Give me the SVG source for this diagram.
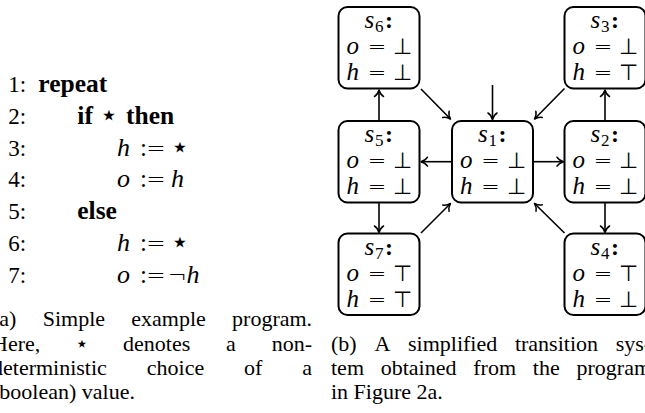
<svg xmlns="http://www.w3.org/2000/svg" width="645" height="413" viewBox="0 0 645 413">
<defs>
<style>
.bg{fill:#fff}
.box{fill:#fff;stroke:#000;stroke-width:2}
.e{fill:none;stroke:#000;stroke-width:1.6}
.ah{fill:none;stroke:#000;stroke-width:1.5;stroke-linecap:round;stroke-linejoin:round}
.mi{font-family:"Liberation Serif",serif;font-style:italic;font-size:25px}
.ms{font-family:"DejaVu Sans",sans-serif;font-size:22px;font-weight:200;font-style:normal}
.sub{font-family:"Liberation Serif",serif;font-size:17px;font-style:normal}
.col{font-family:"Liberation Serif",serif;font-size:24px;font-weight:bold;font-style:normal}
.num{font-family:"Liberation Serif",serif;font-size:23px}
.kw{font-weight:bold;font-size:25.5px;font-style:normal}
.ci{font-style:italic;font-size:26px}
.cs{font-family:"DejaVu Sans",sans-serif;font-size:23px;font-weight:200;font-style:normal}
.cc{font-size:25px;font-style:normal}
.cap{font-family:"Liberation Serif",serif;font-size:22px}
.star{font-family:"DejaVu Sans",sans-serif;font-size:30px;font-weight:normal;font-style:normal}
.star2{font-family:"DejaVu Sans",sans-serif;font-size:22px}
</style>
<marker id="arr" viewBox="-8 -6 10 12" markerWidth="10" markerHeight="12" refX="0" refY="0" orient="auto" markerUnits="userSpaceOnUse">
<path class="ah" d="M-6.5,-4.5 C-5,-2 -2,-0.6 0,0 C-2,0.6 -5,2 -6.5,4.5"/>
</marker>
</defs>
<rect class="bg" x="0" y="0" width="645" height="413"/>

<g id="code" font-family="Liberation Serif, serif">
<text y="92"><tspan class="num" x="8.3">1:</tspan><tspan class="kw" x="38.3">repeat</tspan></text>
<text y="123.8"><tspan class="num" x="8.3">2:</tspan><tspan class="kw" x="77.3">if</tspan><tspan class="star" x="109" y="125" text-anchor="middle">⋆</tspan><tspan class="kw" x="126" y="123.8">then</tspan></text>
<text y="155.6"><tspan class="num" x="8.3">3:</tspan><tspan class="ci" x="117">h</tspan><tspan class="cc" x="140">:</tspan><tspan class="cs" x="156" text-anchor="middle">=</tspan><tspan class="star" x="180" y="156.8" text-anchor="middle">⋆</tspan></text>
<text y="187.4"><tspan class="num" x="8.3">4:</tspan><tspan class="ci" x="117">o</tspan><tspan class="cc" x="140">:</tspan><tspan class="cs" x="156" text-anchor="middle">=</tspan><tspan class="ci" x="171">h</tspan></text>
<text y="219.2"><tspan class="num" x="8.3">5:</tspan><tspan class="kw" x="77.3">else</tspan></text>
<text y="251"><tspan class="num" x="8.3">6:</tspan><tspan class="ci" x="117">h</tspan><tspan class="cc" x="140">:</tspan><tspan class="cs" x="156" text-anchor="middle">=</tspan><tspan class="star" x="180" y="252.2" text-anchor="middle">⋆</tspan></text>
<text y="282.8"><tspan class="num" x="8.3">7:</tspan><tspan class="ci" x="117">o</tspan><tspan class="cc" x="140">:</tspan><tspan class="cs" x="156" text-anchor="middle">=</tspan><tspan class="cs" x="177.5" text-anchor="middle">¬</tspan><tspan class="ci" x="186.5">h</tspan></text>
</g>

<g id="caption-a" class="cap">
<text y="326"><tspan x="-8">(a)</tspan><tspan x="42.7">Simple</tspan><tspan x="131.3">example</tspan><tspan x="232.1">program.</tspan></text>
<text y="350.5"><tspan x="-8">Here,</tspan><tspan class="star2" x="82" y="351" text-anchor="middle">⋆</tspan><tspan x="123" y="350.5">denotes</tspan><tspan x="226.1">a</tspan><tspan x="271.8">non-</tspan></text>
<text y="375"><tspan x="-8">deterministic</tspan><tspan x="146.8">choice</tspan><tspan x="244.1">of</tspan><tspan x="302.3">a</tspan></text>
<text x="-8" y="399">(boolean) value.</text>
</g>

<g id="caption-b" class="cap">
<text y="350.5"><tspan x="331">(b)</tspan><tspan x="374.4">A</tspan><tspan x="408">simplified</tspan><tspan x="514.9">transition</tspan><tspan x="615.7">sys-</tspan></text>
<text y="375"><tspan x="331">tem</tspan><tspan x="380.7">obtained</tspan><tspan x="473.3">from</tspan><tspan x="532.8">the</tspan><tspan x="576.5">program</tspan></text>
<text x="331" y="399">in Figure 2a.</text>
</g>

<g id="connectors">
<path class="e" marker-end="url(#arr)" d="M379,121 L379,90"/>
<path class="e" marker-end="url(#arr)" d="M421,89 L450.5,119"/>
<path class="e" marker-end="url(#arr)" d="M492.5,85 L492.5,119.5"/>
<path class="e" marker-end="url(#arr)" d="M564.5,88.5 L534.5,119"/>
<path class="e" marker-end="url(#arr)" d="M605,121 L605,90"/>
<path class="e" marker-end="url(#arr)" d="M452,161.7 L421,161.7"/>
<path class="e" marker-end="url(#arr)" d="M533,161.7 L563.5,161.7"/>
<path class="e" marker-end="url(#arr)" d="M379,202.5 L379,232.5"/>
<path class="e" marker-end="url(#arr)" d="M421,233 L450.5,203.5"/>
<path class="e" marker-end="url(#arr)" d="M564.5,233 L534.5,203.5"/>
<path class="e" marker-end="url(#arr)" d="M605,202.5 L605,232.5"/>
</g>

<g id="s6" transform="translate(338.5,7)">
<rect class="box" x="0" y="0" width="81" height="81.5" rx="9"/>
<text class="mi" x="26" y="21">s<tspan class="sub" x="36.5" y="25">6</tspan><tspan class="col" x="46.5" y="21">:</tspan></text>
<text class="mi" y="47"><tspan x="8">o</tspan><tspan class="ms" x="38.5" text-anchor="middle">=</tspan><tspan class="ms" x="64" text-anchor="middle">⊥</tspan></text>
<text class="mi" y="73"><tspan x="8">h</tspan><tspan class="ms" x="38.5" text-anchor="middle">=</tspan><tspan class="ms" x="64" text-anchor="middle">⊥</tspan></text>
</g>
<g id="s3" transform="translate(564.5,7)">
<rect class="box" x="0" y="0" width="81" height="81.5" rx="9"/>
<text class="mi" x="26" y="21">s<tspan class="sub" x="36.5" y="25">3</tspan><tspan class="col" x="46.5" y="21">:</tspan></text>
<text class="mi" y="47"><tspan x="8">o</tspan><tspan class="ms" x="38.5" text-anchor="middle">=</tspan><tspan class="ms" x="64" text-anchor="middle">⊥</tspan></text>
<text class="mi" y="73"><tspan x="8">h</tspan><tspan class="ms" x="38.5" text-anchor="middle">=</tspan><tspan class="ms" x="64" text-anchor="middle">⊤</tspan></text>
</g>
<g id="s5" transform="translate(338.5,121)">
<rect class="box" x="0" y="0" width="81" height="81.5" rx="9"/>
<text class="mi" x="26" y="21">s<tspan class="sub" x="36.5" y="25">5</tspan><tspan class="col" x="46.5" y="21">:</tspan></text>
<text class="mi" y="47"><tspan x="8">o</tspan><tspan class="ms" x="38.5" text-anchor="middle">=</tspan><tspan class="ms" x="64" text-anchor="middle">⊥</tspan></text>
<text class="mi" y="73"><tspan x="8">h</tspan><tspan class="ms" x="38.5" text-anchor="middle">=</tspan><tspan class="ms" x="64" text-anchor="middle">⊥</tspan></text>
</g>
<g id="s1" transform="translate(452,121)">
<rect class="box" x="0" y="0" width="81" height="81.5" rx="9"/>
<text class="mi" x="26" y="21">s<tspan class="sub" x="36.5" y="25">1</tspan><tspan class="col" x="46.5" y="21">:</tspan></text>
<text class="mi" y="47"><tspan x="8">o</tspan><tspan class="ms" x="38.5" text-anchor="middle">=</tspan><tspan class="ms" x="64" text-anchor="middle">⊥</tspan></text>
<text class="mi" y="73"><tspan x="8">h</tspan><tspan class="ms" x="38.5" text-anchor="middle">=</tspan><tspan class="ms" x="64" text-anchor="middle">⊥</tspan></text>
</g>
<g id="s2" transform="translate(564.5,121)">
<rect class="box" x="0" y="0" width="81" height="81.5" rx="9"/>
<text class="mi" x="26" y="21">s<tspan class="sub" x="36.5" y="25">2</tspan><tspan class="col" x="46.5" y="21">:</tspan></text>
<text class="mi" y="47"><tspan x="8">o</tspan><tspan class="ms" x="38.5" text-anchor="middle">=</tspan><tspan class="ms" x="64" text-anchor="middle">⊥</tspan></text>
<text class="mi" y="73"><tspan x="8">h</tspan><tspan class="ms" x="38.5" text-anchor="middle">=</tspan><tspan class="ms" x="64" text-anchor="middle">⊥</tspan></text>
</g>
<g id="s7" transform="translate(338.5,233.5)">
<rect class="box" x="0" y="0" width="81" height="81.5" rx="9"/>
<text class="mi" x="26" y="21">s<tspan class="sub" x="36.5" y="25">7</tspan><tspan class="col" x="46.5" y="21">:</tspan></text>
<text class="mi" y="47"><tspan x="8">o</tspan><tspan class="ms" x="38.5" text-anchor="middle">=</tspan><tspan class="ms" x="64" text-anchor="middle">⊤</tspan></text>
<text class="mi" y="73"><tspan x="8">h</tspan><tspan class="ms" x="38.5" text-anchor="middle">=</tspan><tspan class="ms" x="64" text-anchor="middle">⊤</tspan></text>
</g>
<g id="s4" transform="translate(564.5,233.5)">
<rect class="box" x="0" y="0" width="81" height="81.5" rx="9"/>
<text class="mi" x="26" y="21">s<tspan class="sub" x="36.5" y="25">4</tspan><tspan class="col" x="46.5" y="21">:</tspan></text>
<text class="mi" y="47"><tspan x="8">o</tspan><tspan class="ms" x="38.5" text-anchor="middle">=</tspan><tspan class="ms" x="64" text-anchor="middle">⊤</tspan></text>
<text class="mi" y="73"><tspan x="8">h</tspan><tspan class="ms" x="38.5" text-anchor="middle">=</tspan><tspan class="ms" x="64" text-anchor="middle">⊥</tspan></text>
</g>
</svg>
